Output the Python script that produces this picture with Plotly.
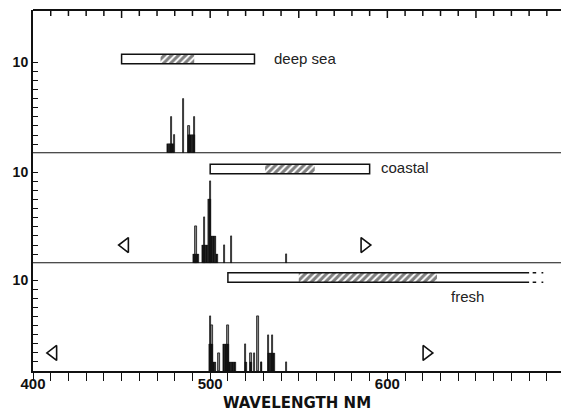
import plotly.graph_objects as go

# ---------------- data ----------------
# deep sea panel: counts per 1-nm bin
deep_black_nm = [476, 477, 478, 479, 488, 489, 490, 491]
deep_black_n = [1, 1, 1, 1, 2, 2, 2, 2]
deep_line_nm = [478, 480, 485, 488, 491]
deep_line_n = [4, 2, 6, 3, 4]

coast_black_nm = [491, 492, 493, 496, 497, 498, 499, 500, 501, 502, 503, 504]
coast_black_n = [1, 1, 1, 2, 2, 2, 7, 7, 3, 3, 3, 1]
coast_line_nm = [492, 497, 500, 508, 512, 543]
coast_line_n = [4, 5, 9, 2, 3, 1]

fresh_black_nm = [500, 501, 502, 503, 508, 509, 510, 511, 512, 513, 514,
                  520, 523, 529, 533, 534, 535, 536]
fresh_black_n = [3, 3, 1, 1, 3, 3, 3, 1, 1, 1, 1, 1, 1, 1, 2, 2, 2, 2]
fresh_line_nm = [500, 501, 505, 510, 520, 523, 525, 527, 529, 533, 535, 543]
fresh_line_n = [6, 5, 2, 5, 3, 2, 2, 6, 1, 4, 4, 1]

# light-environment ranges (nm) and hatched sub-ranges
deep_range = [450, 525]
deep_hatch = [472, 491]
coast_range = [500, 590]
coast_hatch = [531, 559]
fresh_range = [510, 680]
fresh_hatch = [550, 628]

# triangle markers (nm)
coast_tri = [452, 587]
fresh_tri = [411.5, 622]

labels = ["deep sea", "coastal", "fresh"]
x_ticks = [400, 500, 600]
top_ticks = list(range(410, 700, 10))   # frame ticks along the top edge

# ---------------- figure ----------------
FONT = "Liberation Sans, Arial, sans-serif"
INK = "#111"
fig = go.Figure()

panels = [
    ("x", "y", deep_black_nm, deep_black_n, deep_line_nm, deep_line_n),
    ("x2", "y2", coast_black_nm, coast_black_n, coast_line_nm, coast_line_n),
    ("x3", "y3", fresh_black_nm, fresh_black_n, fresh_line_nm, fresh_line_n),
]
for xa, ya, bnm, bn, lnm, ln in panels:
    fig.add_trace(go.Bar(x=lnm, y=ln, width=0.7, xaxis=xa, yaxis=ya,
                         marker=dict(color="#888", line=dict(color=INK, width=0.8)),
                         showlegend=False, hoverinfo="skip"))
    fig.add_trace(go.Bar(x=bnm, y=bn, width=1.0, xaxis=xa, yaxis=ya,
                         marker=dict(color=INK, line=dict(color=INK, width=0.4)),
                         showlegend=False, hoverinfo="skip"))

BOX_LO, BOX_HI = 9.8, 10.85

def hatch(xa, ya, rng):
    fig.add_trace(go.Scatter(
        x=[rng[0], rng[1], rng[1], rng[0], rng[0]],
        y=[BOX_LO, BOX_LO, BOX_HI, BOX_HI, BOX_LO],
        fill="toself", mode="lines", line=dict(width=0, color="rgba(0,0,0,0)"),
        fillcolor="white",
        fillpattern=dict(shape="/", fgcolor="#000", bgcolor="white", size=5, solidity=0.6),
        xaxis=xa, yaxis=ya, showlegend=False, hoverinfo="skip"))

hatch("x", "y", deep_hatch)
hatch("x2", "y2", coast_hatch)
hatch("x3", "y3", fresh_hatch)

shapes = []
for xr, yr, rng in [("x", "y", deep_range), ("x2", "y2", coast_range)]:
    shapes.append(dict(type="rect", xref=xr, yref=yr, x0=rng[0], x1=rng[1],
                       y0=BOX_LO, y1=BOX_HI, line=dict(color=INK, width=1.5)))
# fresh box: open at the right end
fr0, fr1 = fresh_range
shapes.append(dict(type="path", xref="x3", yref="y3",
                   path=f"M {fr1},{BOX_HI} L {fr0},{BOX_HI} L {fr0},{BOX_LO} L {fr1},{BOX_LO}",
                   line=dict(color=INK, width=1.5)))
for yy in (BOX_LO, BOX_HI):
    shapes.append(dict(type="line", xref="x3", yref="y3", x0=fr1 + 2, x1=fr1 + 4,
                       y0=yy, y1=yy, line=dict(color=INK, width=1.5)))
    shapes.append(dict(type="line", xref="x3", yref="y3", x0=fr1 + 7, x1=fr1 + 8,
                       y0=yy, y1=yy, line=dict(color=INK, width=1.5)))
# panel base lines and top frame line
for yr in ("y", "y2"):
    shapes.append(dict(type="line", xref="paper", yref=yr, x0=0, x1=1, y0=0, y1=0,
                       line=dict(color=INK, width=2.2)))
shapes.append(dict(type="line", xref="paper", yref="paper", x0=0, x1=1, y0=1, y1=1,
                   line=dict(color=INK, width=2)))

# inward ticks hanging from the top frame (longer every 50 nm), in pixels
for v in top_ticks:
    shapes.append(dict(type="line", xref="x", yref="paper", ysizemode="pixel",
                       yanchor=1, x0=v, x1=v, y0=0, y1=-(8 if v % 50 == 0 else 6),
                       line=dict(color=INK, width=1.5)))

# triangles
fig.add_trace(go.Scatter(x=coast_tri, y=[2, 2], mode="markers", xaxis="x2", yaxis="y2",
                         marker=dict(symbol=["triangle-left-open", "triangle-right-open"],
                                     size=13, color=INK, line=dict(width=1.6)),
                         showlegend=False, hoverinfo="skip"))
fig.add_trace(go.Scatter(x=fresh_tri, y=[2, 2], mode="markers", xaxis="x3", yaxis="y3",
                         marker=dict(symbol=["triangle-left-open", "triangle-right-open"],
                                     size=13, color=INK, line=dict(width=1.6)),
                         showlegend=False, hoverinfo="skip"))

annotations = [
    dict(text=labels[0], x=535, y=10.4, xref="x", yref="y", xanchor="left",
         showarrow=False, font=dict(family=FONT, size=15, color="#222")),
    dict(text=labels[1], x=595.5, y=10.5, xref="x2", yref="y2", xanchor="left",
         showarrow=False, font=dict(family=FONT, size=15, color="#222")),
    dict(text=labels[2], x=635, y=8.2, xref="x3", yref="y3", xanchor="left",
         showarrow=False, font=dict(family=FONT, size=15, color="#222")),
]

XR = [400, 698]
ytick_vals = list(range(1, 11))
ytick_text = [""] * 9 + ["10"]
yax = dict(showline=True, linewidth=2, linecolor=INK, ticks="inside", ticklen=5,
           tickwidth=1.2, tickcolor=INK, tickvals=ytick_vals, ticktext=ytick_text,
           showgrid=False, zeroline=False,
           tickfont=dict(family=FONT, size=14, color=INK, weight="bold"))

D3 = 107.7 / 361
D2 = 217.7 / 361

fig.update_layout(
    width=561, height=418,
    margin=dict(l=33, r=0, t=10, b=47),
    paper_bgcolor="white", plot_bgcolor="white",
    barmode="overlay", bargap=0,
    shapes=shapes, annotations=annotations,
    xaxis=dict(domain=[0, 1], anchor="y", range=XR, showticklabels=False,
               ticks="", showline=False, showgrid=False, zeroline=False),
    xaxis2=dict(domain=[0, 1], anchor="y2", range=XR, showticklabels=False,
                ticks="", showline=False, showgrid=False, zeroline=False),
    xaxis3=dict(domain=[0, 1], anchor="y3", range=XR, showline=True,
                linewidth=2, linecolor=INK, ticks="outside", tickvals=x_ticks,
                ticklen=8, tickwidth=1.4, tickcolor=INK,
                minor=dict(dtick=10, tick0=400, ticks="outside", ticklen=8, tickwidth=1.4,
                           tickcolor=INK),
                ticklabelstandoff=-10,
                tickfont=dict(family=FONT, size=15, color=INK, weight="bold"),
                title=dict(text="WAVELENGTH NM", standoff=6,
                           font=dict(family="DejaVu Sans, sans-serif", size=15,
                                     color=INK, weight="bold")),
                showgrid=False, zeroline=False),
    yaxis=dict(domain=[D2, 1], anchor="x", range=[0, 15.7], **yax),
    yaxis2=dict(domain=[D3, D2], anchor="x2", range=[0, 12.05], **yax),
    yaxis3=dict(domain=[0, D3], anchor="x3", range=[0, 11.9], **yax),
)

fig.write_html("out.html")
